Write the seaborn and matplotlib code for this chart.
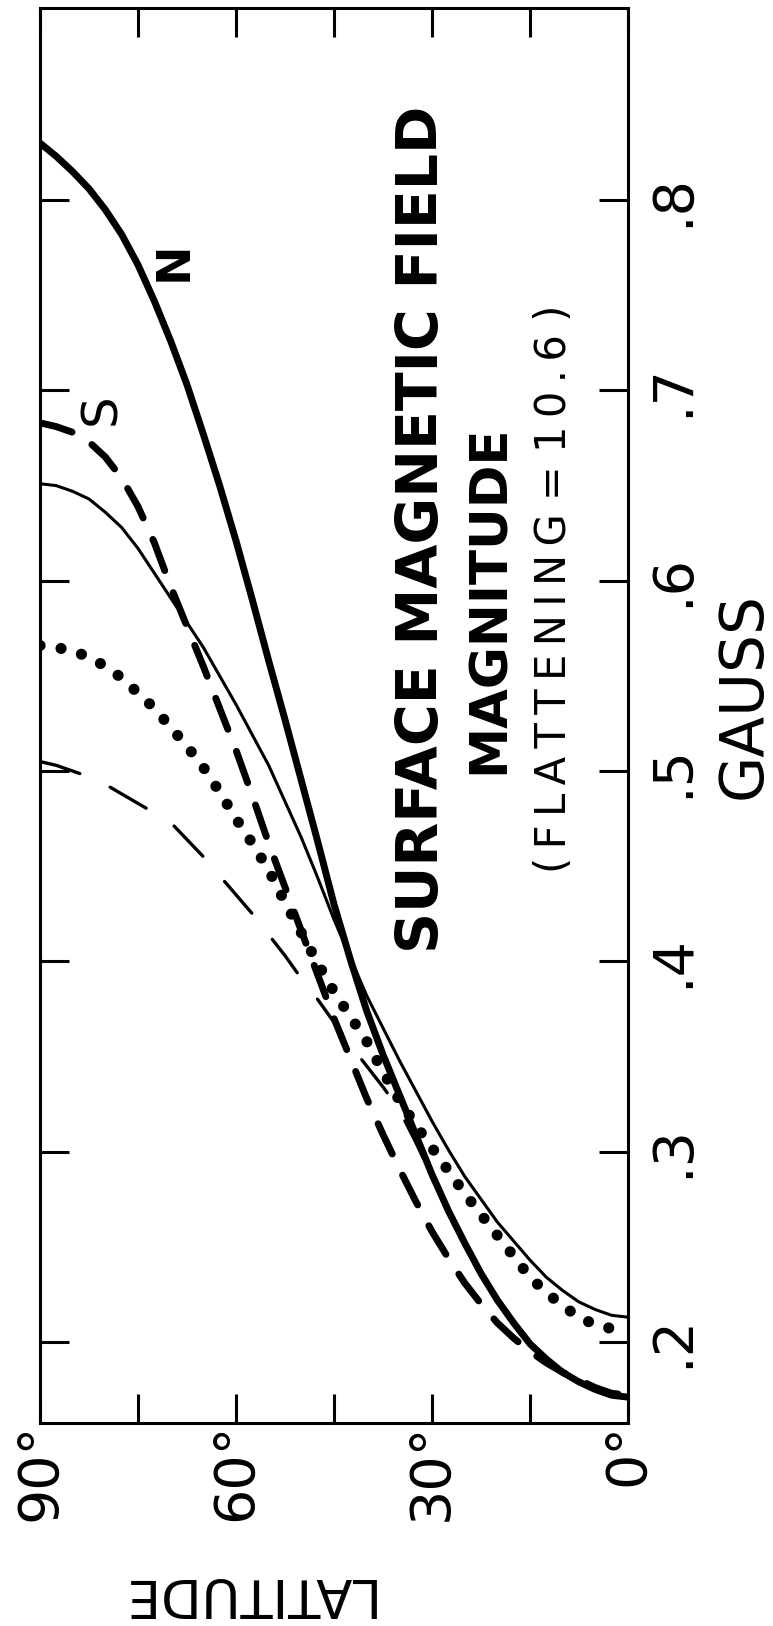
import numpy as np
import pandas as pd
import matplotlib
matplotlib.use("Agg")
import matplotlib.pyplot as plt
import seaborn as sns

sns.set_theme(style="white")
plt.rcParams["font.family"] = ["DejaVu Sans"]

# Latitude grid (degrees) shared by all curves
latitude = [90, 87.5, 85, 82.5, 80, 77.5, 75, 72.5, 70, 67.5, 65, 62.5, 60, 57.5,
            55, 52.5, 50, 47.5, 45, 42.5, 40, 37.5, 35, 32.5, 30, 27.5, 25, 22.5,
            20, 17.5, 15, 12.5, 10, 7.5, 5, 2.5, 0]

# Surface field magnitude (gauss) for each model curve
north_thick = [0.830, 0.823, 0.815, 0.806, 0.795, 0.782, 0.766, 0.747, 0.726, 0.703,
               0.677, 0.650, 0.621, 0.590, 0.558, 0.527, 0.495, 0.463, 0.430, 0.401,
               0.374, 0.351, 0.330, 0.309, 0.288, 0.269, 0.252, 0.236, 0.222, 0.210,
               0.199, 0.191, 0.184, 0.179, 0.175, 0.172, 0.171]
south_dashed = [0.683, 0.681, 0.678, 0.673, 0.665, 0.654, 0.639, 0.620, 0.597, 0.576,
                0.555, 0.533, 0.511, 0.487, 0.462, 0.439, 0.416, 0.393, 0.370, 0.349,
                0.328, 0.309, 0.291, 0.274, 0.258, 0.244, 0.231, 0.220, 0.210, 0.202,
                0.195, 0.189, 0.184, 0.180, 0.176, 0.173, 0.172]
thin_solid = [0.651, 0.650, 0.647, 0.643, 0.636, 0.628, 0.617, 0.604, 0.591, 0.578,
              0.565, 0.550, 0.535, 0.519, 0.503, 0.484, 0.465, 0.444, 0.422, 0.402,
              0.382, 0.365, 0.348, 0.332, 0.316, 0.301, 0.287, 0.275, 0.263, 0.253,
              0.243, 0.234, 0.227, 0.221, 0.217, 0.214, 0.213]
dotted = [0.566, 0.565, 0.563, 0.560, 0.555, 0.549, 0.541, 0.533, 0.523, 0.513,
          0.502, 0.489, 0.475, 0.462, 0.448, 0.431, 0.415, 0.399, 0.384, 0.371,
          0.358, 0.342, 0.327, 0.314, 0.302, 0.290, 0.278, 0.267, 0.256, 0.245,
          0.234, 0.226, 0.219, 0.213, 0.209, 0.207, 0.207]
thin_dashed = [0.505, 0.503, 0.500, 0.497, 0.493, 0.488, 0.483, 0.478, 0.473, 0.464,
               0.455, 0.445, 0.435, 0.425, 0.414, 0.403, 0.391, 0.380, 0.368, 0.356,
               0.345, 0.334, 0.322, 0.305, 0.287, 0.269, 0.252, 0.236, 0.222, 0.210,
               0.199, 0.191, 0.184, 0.179, 0.175, 0.172, 0.171]

lat_ticks = [90, 60, 30, 0]
lat_tick_labels = ["90°", "60°", "30°", "0°"]
lat_minor = [75, 45, 15]
gauss_ticks = [0.2, 0.3, 0.4, 0.5, 0.6, 0.7, 0.8]
gauss_tick_labels = [".2", ".3", ".4", ".5", ".6", ".7", ".8"]

W, H = 773, 1626
fig = plt.figure(figsize=(W / 100, H / 100), dpi=100)
ax = fig.add_axes([40 / W, 1 - 1423 / H, 588 / W, 1415 / H])

curves = [
    (north_thick, dict(lw=5.0, linestyle="-", solid_joinstyle="round")),
    (thin_solid, dict(lw=2.2, linestyle="-", solid_joinstyle="round")),
    (south_dashed, dict(lw=5.0, linestyle=(0, (4.8, 3.4)), dash_capstyle="round")),
    (thin_dashed, dict(lw=2.4, linestyle=(0, (12.5, 10.0)), dash_capstyle="round")),
    (dotted, dict(lw=8.0, linestyle=(0, (0.01, 1.9)), dash_capstyle="round")),
]
for values, style in curves:
    df = pd.DataFrame({"latitude": latitude, "gauss": values})
    sns.lineplot(data=df, x="latitude", y="gauss", ax=ax, color="black",
                 estimator=None, sort=False, **style)

ax.set_xlim(90, 0)
ax.set_ylim(0.1574, 0.901)
ax.set_xlabel("")
ax.set_ylabel("")

for side in ax.spines.values():
    side.set_color("black")
    side.set_linewidth(2.2)

ax.set_xticks(lat_ticks, lat_tick_labels)
ax.set_xticks(lat_minor, minor=True)
ax.set_yticks(gauss_ticks, gauss_tick_labels)
ax.tick_params(axis="both", which="both", direction="in", length=21, width=2.2,
               color="black", labelcolor="black",
               top=True, bottom=True, left=True, right=True)
ax.tick_params(axis="x", which="major", labelsize=40, pad=0, labelrotation=90)
ax.tick_params(axis="y", which="major", labelsize=40, pad=13,
               labelleft=False, labelright=True, labelrotation=90)
for lbl in ax.get_xticklabels():
    lbl.set_va("top")
    lbl.set_ha("center")
for lbl in ax.get_yticklabels():
    lbl.set_va("center")
    lbl.set_ha("left")


def place(x, y, s, size, rot=90, **kw):
    opts = dict(ha="center", va="center")
    opts.update(kw)
    fig.text(x / W, 1 - y / H, s, fontsize=size, rotation=rot,
             color="black", **opts)


def spaced(word):
    return "\u2009".join(word)


place(423, 529, "SURFACE MAGNETIC FIELD", 41, fontweight="bold")
place(490, 599, "MAGNITUDE", 37, fontweight="bold")
place(554, 589, spaced("(FLATTENING") + " = " + spaced("10.6") + " )", 30)
place(744, 695, "GAUSS", 43)
place(244, 1578, "LATITUDE", 38, rot=180, va="baseline", rotation_mode="anchor")
place(174, 261, "N", 34, fontweight="bold")
place(101, 409, "S", 36)

fig.savefig("out.png", dpi=100, facecolor="white")
